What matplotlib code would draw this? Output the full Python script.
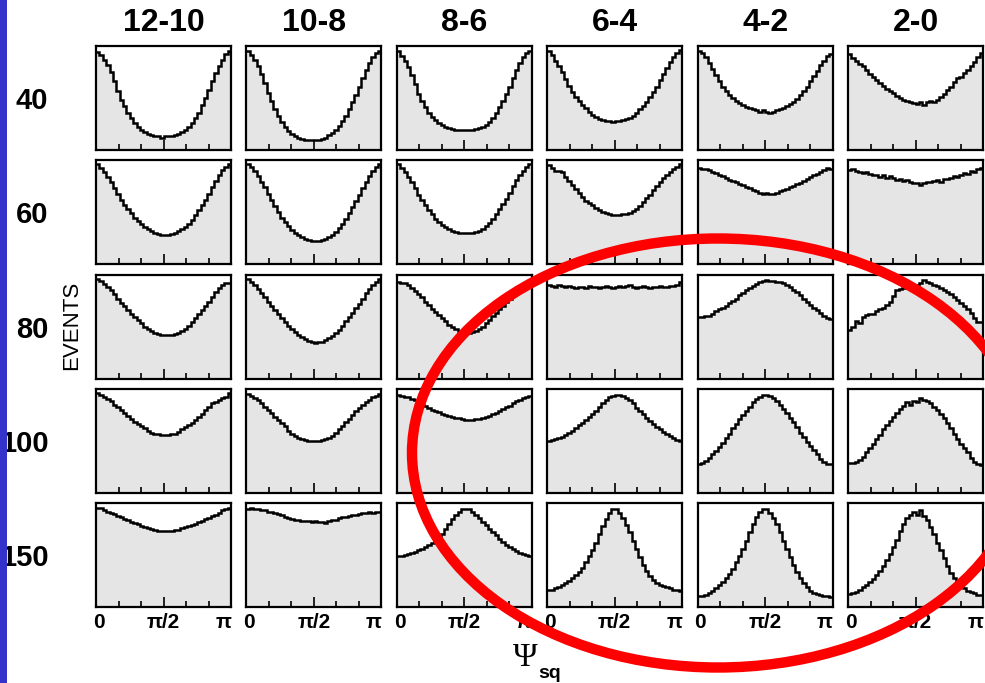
import numpy as np
import matplotlib.pyplot as plt
from matplotlib.patches import Ellipse, Rectangle
from matplotlib.transforms import ScaledTranslation

plt.rcParams['font.family'] = ['Liberation Sans', 'DejaVu Sans']

col_labels = ['12-10', '10-8', '8-6', '6-4', '4-2', '2-0']
row_labels = ['40', '60', '80', '100', '150']

# bin contents, in % of the panel height (40 bins over 0..pi)
row_40 = [
    [94, 91, 87, 82, 75, 66, 57, 48, 42, 36, 31, 26, 22, 19, 17, 15, 14, 13, 13, 12,
     13, 13, 13, 14, 15, 17, 19, 22, 26, 31, 36, 43, 50, 58, 66, 74, 81, 87, 92, 95],
    [95, 91, 87, 81, 73, 64, 55, 47, 39, 33, 27, 22, 18, 15, 13, 12, 11, 10, 10, 10,
     10, 10, 11, 12, 14, 16, 19, 23, 28, 33, 39, 46, 53, 61, 69, 77, 84, 89, 93, 95],
    [95, 90, 86, 80, 72, 63, 54, 47, 41, 36, 32, 29, 26, 24, 22, 21, 20, 19, 19, 19,
     19, 19, 19, 20, 21, 22, 24, 27, 31, 36, 41, 47, 54, 61, 69, 77, 84, 89, 93, 95],
    [95, 91, 86, 81, 75, 68, 62, 56, 51, 47, 43, 40, 37, 34, 32, 30, 29, 28, 28, 27,
     28, 28, 29, 30, 31, 33, 36, 39, 42, 46, 51, 56, 61, 67, 73, 79, 85, 89, 93, 96],
    [95, 93, 89, 84, 78, 72, 66, 61, 57, 53, 50, 47, 45, 43, 41, 40, 39, 38, 37, 38,
     37, 36, 37, 38, 39, 40, 42, 44, 46, 49, 53, 57, 61, 66, 71, 76, 82, 86, 90, 92],
    [92, 88, 86, 83, 81, 77, 73, 70, 67, 64, 62, 59, 57, 55, 52, 50, 48, 47, 46, 45,
     44, 46, 43, 46, 47, 46, 48, 51, 54, 58, 61, 65, 69, 70, 74, 77, 81, 85, 89, 93],
]
row_60 = [
    [96, 93, 89, 84, 79, 73, 68, 62, 57, 53, 49, 45, 42, 39, 36, 34, 32, 30, 29, 28,
     28, 28, 29, 30, 32, 34, 36, 39, 43, 47, 52, 57, 62, 68, 74, 80, 86, 91, 94, 96],
    [96, 94, 90, 85, 79, 74, 68, 62, 56, 50, 45, 41, 37, 33, 30, 28, 26, 24, 23, 22,
     22, 22, 23, 24, 26, 28, 31, 35, 39, 44, 49, 55, 61, 67, 73, 79, 85, 90, 94, 96],
    [96, 93, 89, 84, 79, 73, 67, 62, 57, 52, 48, 44, 41, 38, 36, 34, 32, 31, 30, 30,
     30, 30, 30, 31, 32, 34, 37, 40, 44, 48, 53, 58, 63, 69, 75, 81, 86, 90, 94, 96],
    [95, 93, 90, 90, 89, 84, 80, 76, 72, 69, 65, 61, 59, 57, 54, 52, 50, 49, 48, 47,
     47, 47, 48, 48, 49, 51, 53, 56, 60, 64, 67, 71, 75, 79, 83, 86, 89, 92, 94, 96],
    [93, 92, 92, 91, 89, 88, 86, 85, 83, 81, 80, 79, 77, 76, 74, 73, 71, 70, 69, 68,
     69, 68, 68, 69, 70, 71, 72, 74, 75, 77, 78, 80, 82, 84, 86, 87, 89, 91, 93, 92],
    [91, 92, 90, 89, 88, 89, 87, 86, 86, 84, 86, 83, 85, 83, 81, 82, 80, 81, 79, 78,
     78, 76, 78, 79, 79, 80, 81, 79, 82, 82, 83, 85, 84, 86, 88, 87, 90, 89, 92, 93],
]
row_80 = [
    [96, 94, 91, 88, 85, 81, 77, 73, 70, 66, 62, 59, 56, 53, 50, 48, 46, 44, 43, 42,
     42, 42, 42, 43, 44, 46, 48, 51, 54, 58, 62, 66, 70, 74, 78, 83, 87, 90, 92, 92],
    [96, 93, 90, 86, 82, 78, 74, 70, 66, 62, 58, 54, 51, 48, 45, 42, 40, 38, 36, 35,
     34, 35, 35, 37, 39, 41, 44, 47, 51, 55, 59, 63, 68, 72, 77, 82, 86, 90, 93, 96],
    [93, 92, 92, 90, 87, 84, 81, 78, 74, 71, 67, 64, 61, 58, 55, 52, 50, 48, 46, 45,
     44, 44, 45, 46, 48, 50, 53, 56, 60, 63, 67, 70, 74, 77, 81, 84, 86, 88, 91, 94],
    [90, 89, 88, 90, 89, 88, 89, 88, 87, 88, 88, 87, 89, 88, 88, 87, 88, 89, 88, 87,
     88, 89, 88, 89, 90, 88, 87, 88, 89, 88, 87, 88, 88, 89, 88, 88, 89, 89, 90, 93],
    [59, 59, 60, 60, 62, 65, 67, 68, 70, 73, 75, 77, 80, 82, 85, 87, 89, 91, 93, 94,
     95, 94, 94, 93, 93, 92, 90, 88, 85, 83, 80, 77, 74, 71, 68, 66, 63, 60, 58, 57],
    [47, 50, 55, 53, 59, 61, 62, 62, 65, 67, 68, 71, 74, 79, 85, 86, 87, 87, 88, 89,
     90, 92, 95, 93, 92, 90, 89, 87, 85, 83, 81, 78, 76, 73, 70, 67, 63, 58, 54, 54],
]
row_100 = [
    [96, 94, 92, 90, 88, 85, 83, 80, 77, 74, 71, 68, 66, 64, 62, 60, 58, 57, 57, 56,
     56, 56, 57, 57, 59, 61, 63, 65, 67, 70, 73, 76, 80, 83, 86, 87, 89, 91, 92, 96],
    [95, 93, 91, 89, 86, 83, 80, 77, 73, 70, 67, 64, 60, 57, 55, 53, 52, 51, 50, 50,
     50, 50, 51, 52, 53, 55, 58, 61, 64, 68, 71, 75, 79, 82, 85, 87, 89, 92, 93, 95],
    [94, 93, 92, 92, 90, 89, 87, 85, 84, 82, 80, 79, 78, 76, 75, 74, 73, 72, 72, 71,
     70, 70, 70, 71, 71, 72, 73, 74, 76, 77, 79, 81, 83, 84, 86, 88, 89, 91, 92, 93],
    [50, 51, 52, 53, 54, 56, 58, 60, 62, 65, 67, 70, 73, 76, 79, 83, 86, 89, 92, 93,
     94, 94, 93, 91, 89, 86, 82, 79, 76, 72, 69, 66, 63, 61, 59, 57, 55, 53, 51, 50],
    [28, 29, 31, 34, 37, 40, 44, 48, 53, 57, 62, 66, 71, 75, 79, 83, 87, 90, 92, 94,
     94, 93, 91, 88, 85, 81, 77, 72, 68, 63, 58, 54, 49, 45, 41, 37, 33, 30, 28, 28],
    [29, 29, 30, 32, 35, 39, 43, 47, 52, 56, 61, 65, 69, 73, 77, 81, 84, 87, 85, 88,
     87, 91, 89, 88, 86, 83, 80, 76, 72, 67, 62, 57, 52, 47, 43, 39, 34, 30, 28, 27],
]
row_150 = [
    [95, 95, 93, 92, 91, 90, 88, 87, 85, 84, 82, 81, 80, 78, 77, 76, 75, 74, 73, 73,
     73, 73, 73, 74, 74, 76, 77, 78, 79, 80, 82, 83, 85, 86, 88, 89, 91, 93, 94, 95],
    [94, 95, 94, 94, 93, 93, 92, 92, 91, 90, 89, 87, 86, 85, 84, 84, 83, 83, 83, 82,
     83, 82, 82, 81, 83, 84, 84, 86, 87, 87, 88, 89, 89, 90, 91, 91, 92, 91, 92, 92],
    [49, 49, 50, 51, 52, 53, 55, 56, 58, 60, 62, 64, 67, 70, 75, 80, 85, 89, 92, 94,
     94, 94, 92, 89, 86, 82, 79, 75, 72, 69, 66, 63, 60, 58, 56, 54, 52, 51, 50, 49],
    [17, 17, 18, 19, 21, 23, 25, 28, 31, 34, 38, 43, 49, 55, 62, 70, 78, 85, 91, 94,
     94, 91, 86, 79, 72, 64, 56, 48, 41, 35, 30, 26, 23, 21, 20, 19, 18, 17, 17, 16],
    [11, 11, 12, 14, 16, 18, 21, 24, 28, 32, 37, 43, 49, 56, 64, 72, 80, 87, 92, 94,
     94, 91, 86, 80, 72, 64, 56, 48, 41, 34, 28, 23, 19, 16, 14, 13, 12, 11, 11, 10],
    [13, 14, 15, 17, 19, 21, 24, 27, 31, 35, 40, 45, 51, 58, 65, 73, 80, 86, 89, 92,
     89, 93, 88, 84, 77, 70, 62, 55, 47, 40, 33, 28, 24, 21, 18, 16, 15, 14, 12, 12],
]
rows = [row_40, row_60, row_80, row_100, row_150]

W, H = 985, 683
fig = plt.figure(figsize=(W / 100, H / 100), dpi=100)

# panel geometry in pixels
x0, dx, pw = 96, 150.4, 135
y0, dy, ph = 46, 114.3, 104

for i, row in enumerate(rows):
    for j, vals in enumerate(row):
        left = x0 + j * dx
        top = y0 + i * dy
        ax = fig.add_axes([left / W, 1 - (top + ph) / H, pw / W, ph / H])
        edges = np.linspace(0, np.pi, len(vals) + 1)
        ax.stairs(vals, edges, fill=True, color='#e5e5e5')
        ax.stairs(vals, edges, baseline=None, color='black', lw=1.8)
        ax.set_xlim(0, np.pi)
        ax.set_ylim(0, 100)
        ax.set_yticks([])
        ax.set_xticks([0, np.pi / 2, np.pi])
        ax.set_xticks(np.arange(1, 6) * np.pi / 6, minor=True)
        ax.tick_params(axis='x', which='major', direction='in', length=7, width=1.2)
        ax.tick_params(axis='x', which='minor', direction='in', length=4, width=1.2)
        for s in ax.spines.values():
            s.set_linewidth(1.6)
        if i == len(rows) - 1:
            ax.set_xticklabels(['0', 'π/2', 'π'], fontsize=15, fontweight='bold')
            lbls = ax.get_xticklabels()
            lbls[0].set_ha('left')
            lbls[2].set_ha('right')
            ax.tick_params(axis='x', which='major', pad=4)
            lbls[0].set_transform(lbls[0].get_transform()
                                  + ScaledTranslation(-3 / 100, 0, fig.dpi_scale_trans))
        else:
            ax.set_xticklabels([])

# overlay in pixel coordinates
ov = fig.add_axes([0, 0, 1, 1])
ov.set_xlim(0, W)
ov.set_ylim(H, 0)
ov.axis('off')
ov.patch.set_alpha(0)

for j, lab in enumerate(col_labels):
    ov.text(x0 + j * dx + pw / 2, 23, lab, ha='center', va='center',
            fontsize=23, fontweight='bold')
for i, lab in enumerate(row_labels):
    ov.text(48.5, y0 + i * dy + ph / 2 + 3, lab, ha='right', va='center',
            fontsize=21, fontweight='bold')

ov.text(72, 325, 'EVENTS', rotation=90, ha='center', va='center', fontsize=16)
ov.text(525, 658, 'Ψ', ha='center', va='center', fontsize=24,
        family=['Liberation Serif', 'DejaVu Serif'])
ov.text(550, 673, 'sq', ha='center', va='center', fontsize=14, fontweight='bold')

ov.add_patch(Rectangle((0, 0), 6.5, H, facecolor='#3333cc', edgecolor='none', zorder=5))
ov.add_patch(Ellipse((718, 453), 612, 429, angle=0, fill=False,
                     edgecolor='#ff0000', lw=7.5, zorder=6))

fig.savefig('out.png', dpi=100)
